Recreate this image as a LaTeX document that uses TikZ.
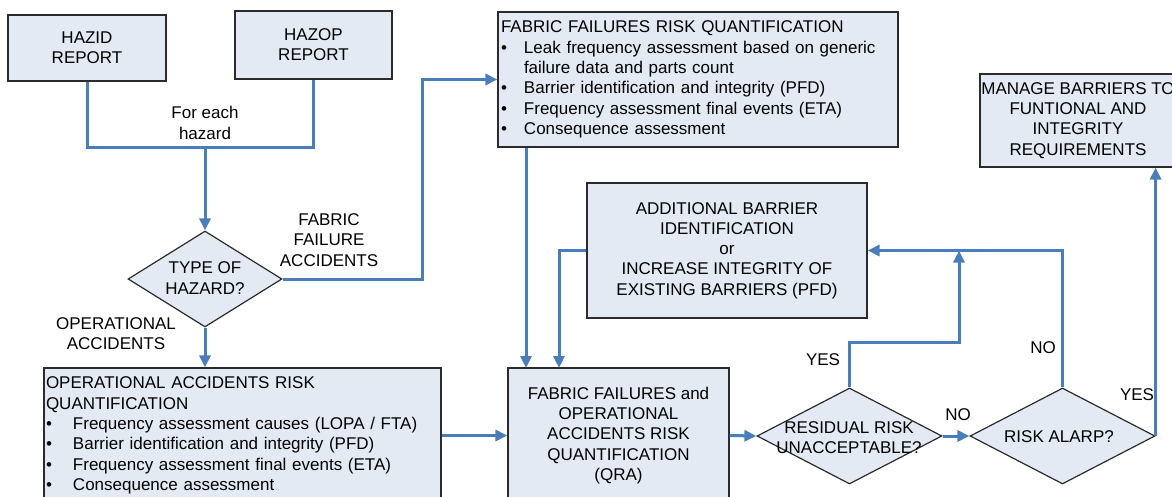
\documentclass[tikz,border=0pt]{standalone}
\usepackage{fontspec}
\setmainfont{Liberation Sans}
\usetikzlibrary{arrows.meta,shapes.geometric}
\definecolor{flow}{HTML}{4A7EBB}
\definecolor{boxfill}{HTML}{E4EAF4}
\definecolor{boxline}{HTML}{2B2B2B}
\newcommand{\bitem}[1]{\makebox[#1pt][l]{\textbullet}}
\tikzset{
  box/.style={draw=boxline, line width=1.2pt, fill=boxfill, inner sep=0pt, font=\fontsize{17}{20.3}\selectfont},
  dia/.style={shape=diamond, draw=boxline, line width=1.2pt, fill=boxfill, inner sep=0pt},
  txt/.style={font=\fontsize{17}{20.3}\selectfont, align=center, inner sep=0pt},
  flowline/.style={draw=flow, line width=3pt},
  arr/.style={flowline, -{Triangle[length=12pt,width=11pt]}},
}
\begin{document}
\begin{tikzpicture}[x=1pt,y=-1pt]
\clip (0,0) rectangle (1172,497);
\fill[white] (0,0) rectangle (1172,497);

% boxes
\node[box, minimum width=158, minimum height=66, align=center] (hazid) at (87,48) {HAZID\\REPORT};
\node[box, minimum width=157, minimum height=68, align=center] (hazop) at (313.5,45) {HAZOP\\REPORT};
\node[box, minimum height=135, text width=394, inner xsep=3pt, align=left] (ff) at (698,79.5)
 {FABRIC FAILURES RISK QUANTIFICATION\\
  \bitem{23}Leak frequency assessment based on generic\\
  \hspace*{23pt}failure data and parts count\\
  \bitem{23}Barrier identification and integrity (PFD)\\
  \bitem{23}Frequency assessment final events (ETA)\\
  \bitem{23}Consequence assessment};
\node[box, minimum height=135, text width=393, inner xsep=2pt, align=left] (op) at (242.5,435.5)
 {OPERATIONAL ACCIDENTS RISK\\
  QUANTIFICATION\\
  \bitem{27}Frequency assessment causes (LOPA / FTA)\\
  \bitem{27}Barrier identification and integrity (PFD)\\
  \bitem{27}Frequency assessment final events (ETA)\\
  \bitem{27}Consequence assessment};
\node[box, minimum width=221, minimum height=135, align=center] (qra) at (618.5,435.5)
 {FABRIC FAILURES and\\OPERATIONAL\\ACCIDENTS RISK\\QUANTIFICATION\\(QRA)};
\node[box, minimum width=280, minimum height=135, align=center] (add) at (727,250.5)
 {ADDITIONAL BARRIER\\IDENTIFICATION\\or\\INCREASE INTEGRITY OF\\EXISTING BARRIERS (PFD)};
\node[box, minimum width=196, minimum height=93, align=center] (mng) at (1078,120.5)
 {MANAGE BARRIERS TO\\FUNTIONAL AND\\INTEGRITY\\REQUIREMENTS};

% decisions
\node[dia, minimum width=154, minimum height=96] (haz) at (205,279) {};
\node[txt] (hazt) at (205,278) {TYPE OF\\HAZARD?};
\node[dia, minimum width=185, minimum height=96] (res) at (849.5,436) {};
\node[txt] (rest) at (849,437.5) {RESIDUAL RISK\\UNACCEPTABLE?};
\node[dia, minimum width=185, minimum height=96] (alarp) at (1062.5,436) {};
\node[txt] (alarpt) at (1059,437) {RISK ALARP?};

% labels
\node[txt] (lfor) at (205,123) {For each\\hazard};
\node[txt] (lfab) at (329,240) {FABRIC\\FAILURE\\ACCIDENTS};
\node[txt] (lop) at (116,333.5) {OPERATIONAL\\ACCIDENTS};
\node[txt] (lyes1) at (823,360) {YES};
\node[txt] (lno1) at (958,415) {NO};
\node[txt] (lno2) at (1043,348) {NO};
\node[txt] (lyes2) at (1137,395) {YES};

% connectors
\coordinate (j) at (205,148);
\draw[flowline] (hazid.south) -- (hazid.south |- j) -- (hazop.south |- j) -- (hazop.south);
\draw[arr] (j) -- (haz.north);
\coordinate (fb) at (422,79.5);
\draw[arr] (haz.east) -| (fb) -- (ff.west);
\draw[arr] (haz.south) -- (haz.south |- op.north);
\draw[arr] (op.east) -- (op.east -| qra.west);
\coordinate (q1) at (526,368);
\coordinate (q2) at (559,368);
\draw[arr] (q1 |- ff.south) -- (q1);
\draw[arr] (add.west) -| (q2);
\draw[arr] (qra.east) -- (res.west);
\coordinate (r1) at (959,342);
\draw[arr] (res.north) |- (r1) -- (r1 |- add.east);
\draw[arr] (res.east) -- (alarp.west);
\draw[arr] (alarp.north) |- (add.east);
\draw[arr] (alarp.east) -- (alarp.east |- mng.south);
\end{tikzpicture}
\end{document}
